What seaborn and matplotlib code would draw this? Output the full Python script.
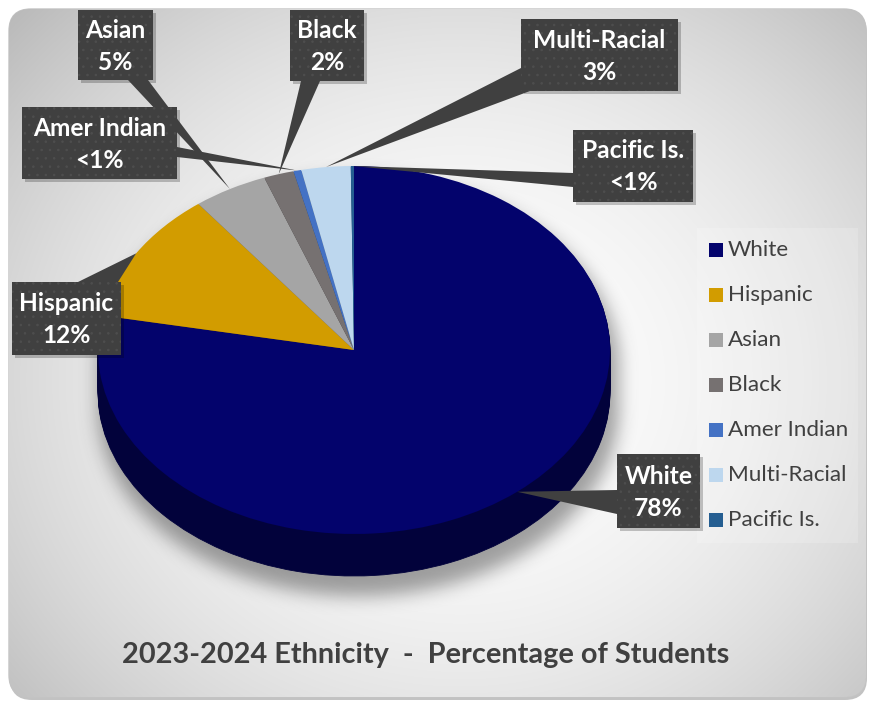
import numpy as np
import matplotlib
matplotlib.use("Agg")
import matplotlib.pyplot as plt
import matplotlib.colors as mcolors
from matplotlib.patches import FancyBboxPatch, Rectangle, Polygon
import seaborn as sns

# ---------------- data ----------------
categories = ["White", "Hispanic", "Asian", "Black", "Amer Indian", "Multi-Racial", "Pacific Is."]
percent = [78.0, 11.6, 4.7, 1.9, 0.5, 3.1, 0.2]
colors = ["#03036c", "#d29c00", "#a5a5a5", "#767171", "#4472c4", "#bdd7ee", "#255e91"]
title = "2023-2024 Ethnicity  -  Percentage of Students"

# ---------------- layout (pixels) ----------------
W, H = 872, 702
PCX, PCY, PA, PB, PDEPTH = 354, 350, 256, 184, 42
box_layout = {
    "White":        ((617, 454, 700, 528), [(617, 490), (617, 514)]),
    "Hispanic":     ((12, 282, 121, 355), [(78, 282), (118, 282)]),
    "Asian":        ((78, 10, 153, 80), [(128, 80), (148, 80)]),
    "Black":        ((290, 10, 364, 81), [(301, 81), (320, 81)]),
    "Amer Indian":  ((22, 107, 177, 179), [(177, 147), (177, 157)]),
    "Multi-Racial": ((521, 19, 678, 91), [(521, 68), (530, 91)]),
    "Pacific Is.":  ((573, 130, 693, 202), [(573, 173), (573, 187)]),
}

sns.set_theme(style="white")
FONT = ["Lato", "DejaVu Sans"]
plt.rcParams["font.family"] = FONT
plt.rcParams["hatch.linewidth"] = 0.6

fig = plt.figure(figsize=(W / 100, H / 100), dpi=100)
fig.patch.set_facecolor("white")

# background axes (pixel coords)
bg = fig.add_axes([0, 0, 1, 1], zorder=0)
bg.set_xlim(0, W); bg.set_ylim(H, 0); bg.axis("off")

Y, X = np.mgrid[0:H, 0:W] + 0.5
d2 = ((X - 460) / 470) ** 2 + ((Y - 380) / 420) ** 2
v = np.clip(0.995 - 0.16 * d2, 0.68, 1.0)
grad = np.dstack([v, v, v])

frame_shadow = FancyBboxPatch((10, 11), 857, 689, boxstyle="round,pad=0,rounding_size=22",
                              fc="#9a9a9a", ec="none", alpha=0.6, zorder=0)
bg.add_patch(frame_shadow)
frame = FancyBboxPatch((9, 9), 857, 688, boxstyle="round,pad=0,rounding_size=22",
                       fc="#dddddd", ec="#c4c4c4", lw=1, zorder=1)
bg.add_patch(frame)
im = bg.imshow(grad, extent=(0, W, H, 0), zorder=2, interpolation="bilinear")
im.set_clip_path(frame)

# soft pie shadow
def blur(a, sigma):
    k = np.arange(-3 * sigma, 3 * sigma + 1)
    g = np.exp(-0.5 * (k / sigma) ** 2); g /= g.sum()
    a = np.apply_along_axis(lambda r: np.convolve(r, g, mode="same"), 1, a)
    a = np.apply_along_axis(lambda c: np.convolve(c, g, mode="same"), 0, a)
    return a

sx, sy = 4, 16
xn = (X - PCX - sx) / (PA + 4)
inside_x = np.abs(xn) <= 1
half = (PB + 4) * np.sqrt(np.clip(1 - xn ** 2, 0, 1))
yc = np.clip(Y, PCY + sy, PCY + sy + PDEPTH)
mask = (inside_x & (np.abs(Y - yc) <= half)).astype(float)
mask = blur(mask, 9)
shadow = np.zeros((H, W, 4)); shadow[..., 3] = 0.36 * mask
sh = bg.imshow(shadow, extent=(0, W, H, 0), zorder=3, interpolation="bilinear")
sh.set_clip_path(frame)

# legend background panel
bg.add_patch(Rectangle((697, 228), 161, 315, fc="white", ec="none", alpha=0.18, zorder=4))

# ---------------- pie axes ----------------
dd = PDEPTH / PB
pie_ax = fig.add_axes([(PCX - PA) / W, (H - (PCY + PB + PDEPTH)) / H,
                       2 * PA / W, (2 * PB + PDEPTH) / H], zorder=1)
side_colors = [tuple(np.array(mcolors.to_rgb(c)) * 0.55) for c in colors]
for off in np.linspace(-dd, 0, 28)[:-1]:
    pie_ax.pie(percent, colors=side_colors, startangle=90, counterclock=False,
               center=(0, off), radius=1, wedgeprops=dict(linewidth=0.6))
    for w in pie_ax.patches[-len(percent):]:
        w.set_edgecolor(w.get_facecolor())
wedges, _ = pie_ax.pie(percent, colors=colors, startangle=90, counterclock=False,
                       center=(0, 0), radius=1, wedgeprops=dict(linewidth=0))
pie_ax.set_aspect("auto")
pie_ax.set_xlim(-1, 1); pie_ax.set_ylim(-1 - dd, 1)
pie_ax.axis("off")

# ---------------- overlay axes ----------------
ov = fig.add_axes([0, 0, 1, 1], zorder=2)
ov.set_xlim(0, W); ov.set_ylim(H, 0); ov.axis("off")
ov.patch.set_alpha(0)

renderer = fig.canvas.get_renderer()

def fit(text, target, weight):
    t = fig.text(0, 0, text, fontsize=10, fontweight=weight, family=FONT)
    wdt = t.get_window_extent(renderer).width
    t.remove()
    return 10 * target / wdt

lab_fs = fit("Multi-Racial", 132, "bold")
leg_fs = fit("Amer Indian", 120, "normal")
tit_fs = fit(title, 608, "bold")

BOX = "#404040"
for wdg, name, pct in zip(wedges, categories, percent):
    mid = np.deg2rad(0.5 * (wdg.theta1 + wdg.theta2))
    tip_disp = pie_ax.transData.transform((np.cos(mid), np.sin(mid)))
    tip = ov.transData.inverted().transform(tip_disp)
    (x0, y0, x1, y1), base = box_layout[name]
    ov.add_patch(Rectangle((x0 + 3, y0 + 3), x1 - x0, y1 - y0, fc="black", ec="none", alpha=0.22, zorder=3))
    ov.add_patch(Polygon([base[0], tuple(tip), base[1]], closed=True, fc=BOX, ec="none", zorder=4))
    ov.add_patch(Rectangle((x0, y0), x1 - x0, y1 - y0, fc=BOX, ec="#4e4e4e", lw=0,
                           hatch="..", zorder=5))
    pct_txt = "<1%" if pct < 1 else f"{round(pct)}%"
    cx, cy = (x0 + x1) / 2, (y0 + y1) / 2
    ov.text(cx, cy - 15, name, color="white", fontsize=lab_fs, fontweight="bold",
            ha="center", va="center", zorder=6)
    ov.text(cx, cy + 17, pct_txt, color="white", fontsize=lab_fs, fontweight="bold",
            ha="center", va="center", zorder=6)

# legend via seaborn
leg_y = [250 + 45 * i for i in range(len(categories))]
sns.scatterplot(x=[716] * len(categories), y=leg_y, hue=categories, palette=colors,
                hue_order=categories, marker="s", s=92, linewidth=0, legend=False, ax=ov, zorder=6)
ov.set_xlim(0, W); ov.set_ylim(H, 0)
for name, yy in zip(categories, leg_y):
    ov.text(728, yy, name, color="#404040", fontsize=leg_fs, ha="left", va="center", zorder=6)

ov.text(426, 655, title, color="#404040", fontsize=tit_fs, fontweight="bold",
        ha="center", va="center", zorder=6)

fig.savefig("out.png", dpi=100)
